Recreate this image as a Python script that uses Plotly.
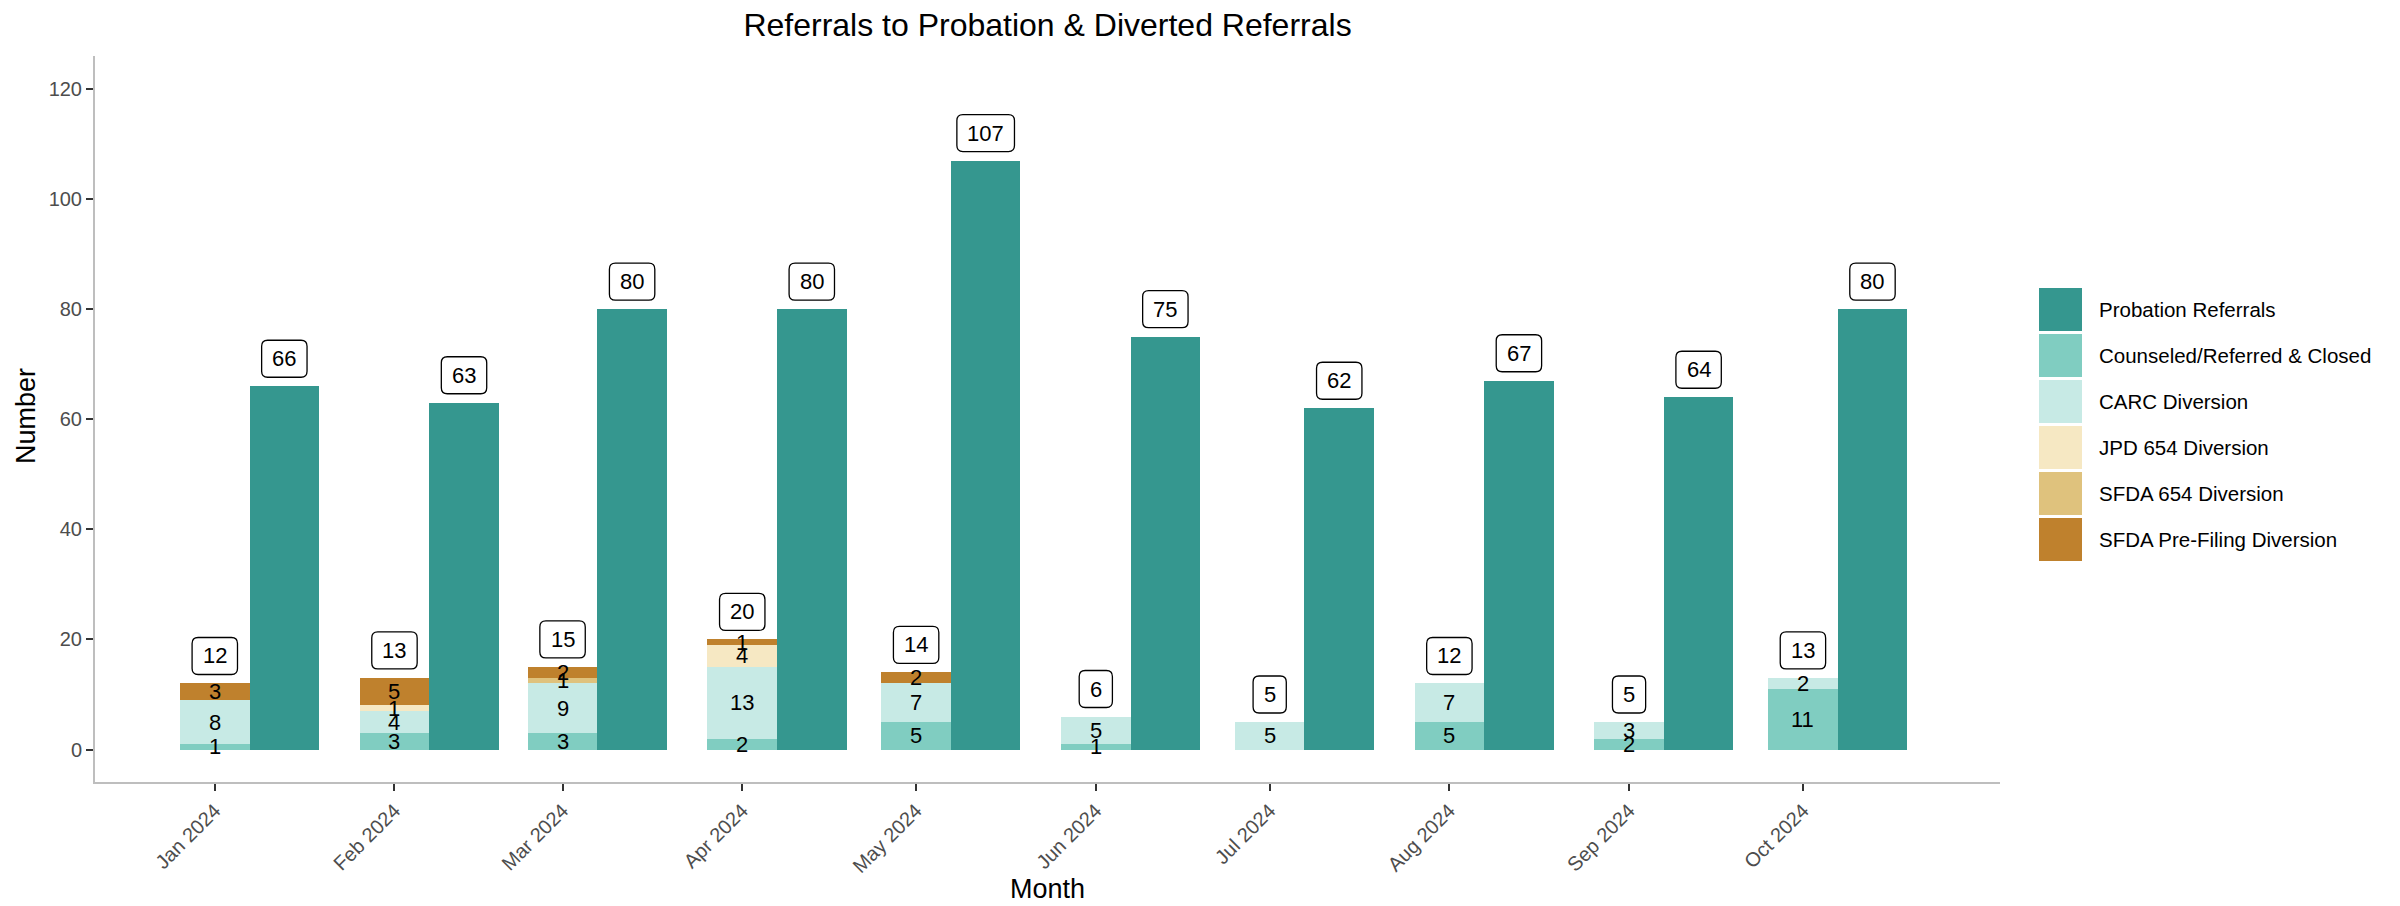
import pandas as pd
import plotly.graph_objects as go

# ---------------- data ----------------
months = ["Jan 2024", "Feb 2024", "Mar 2024", "Apr 2024", "May 2024",
          "Jun 2024", "Jul 2024", "Aug 2024", "Sep 2024", "Oct 2024"]
month_starts = ["2024-01-01", "2024-02-01", "2024-03-01", "2024-04-01", "2024-05-01",
                "2024-06-01", "2024-07-01", "2024-08-01", "2024-09-01", "2024-10-01"]

counseled = [1, 3, 3, 2, 5, 1, 0, 5, 2, 11]
carc = [8, 4, 9, 13, 7, 5, 5, 7, 3, 2]
jpd654 = [0, 1, 0, 4, 0, 0, 0, 0, 0, 0]
sfda654 = [0, 0, 1, 0, 0, 0, 0, 0, 0, 0]
prefiling = [3, 5, 2, 1, 2, 0, 0, 0, 0, 0]
probation = [66, 63, 80, 80, 107, 75, 62, 67, 64, 80]

diversion_series = [
    ("Counseled/Referred & Closed", counseled, "#80cdc1"),
    ("CARC Diversion", carc, "#c7eae5"),
    ("JPD 654 Diversion", jpd654, "#f6e8c3"),
    ("SFDA 654 Diversion", sfda654, "#dfc27d"),
    ("SFDA Pre-Filing Diversion", prefiling, "#bf812d"),
]
probation_name = "Probation Referrals"
probation_color = "#35978f"

title_text = "Referrals to Probation & Diverted Referrals"
x_title = "Month"
y_title = "Number"

# ---------------- layout constants ----------------
FONT = "Liberation Sans, Arial, sans-serif"
W, H = 2400, 906
OFF = 8                      # page body margin
PLOT_L, PLOT_T = 95, 56      # plot area in page pixels
PW, PH = 1905, 726
ML, MT = PLOT_L - OFF, PLOT_T - OFF
MR = W - ML - PW
MB = H - MT - PH
DAY_MS = 86400000
BAR_DAYS = 12

dates = pd.to_datetime(month_starts)
prob_dates = dates + pd.Timedelta(days=BAR_DAYS)

fig = go.Figure()

for name, vals, color in diversion_series:
    fig.add_trace(go.Bar(
        x=dates, y=vals, name=name, width=BAR_DAYS * DAY_MS,
        marker=dict(color=color, line=dict(width=0)), showlegend=False,
    ))

fig.add_trace(go.Bar(
    x=prob_dates, y=probation, name=probation_name, width=BAR_DAYS * DAY_MS,
    marker=dict(color=probation_color, line=dict(width=0)), showlegend=False,
))

annotations = []
shapes = []
label_font = dict(family=FONT, size=22, color="black")

# segment labels
for i, d in enumerate(dates):
    cum = 0
    for name, vals, color in diversion_series:
        v = vals[i]
        if v > 0:
            annotations.append(dict(
                x=d, y=cum + v / 2, text=str(v), showarrow=False,
                font=label_font, xanchor="center", yanchor="middle",
            ))
        cum += v

BOX_GAP, BOX_H, RAD = 9, 37, 6


def rounded_box(x, y, val):
    txt = str(val)
    w = 12.2 * len(txt) + 21
    hx = w / 2
    y0, y1 = BOX_GAP, BOX_GAP + BOX_H
    r = RAD
    path = (f"M {-hx + r},{y0} L {hx - r},{y0} Q {hx},{y0} {hx},{y0 + r} "
            f"L {hx},{y1 - r} Q {hx},{y1} {hx - r},{y1} "
            f"L {-hx + r},{y1} Q {-hx},{y1} {-hx},{y1 - r} "
            f"L {-hx},{y0 + r} Q {-hx},{y0} {-hx + r},{y0} Z")
    shapes.append(dict(
        type="path", xref="x", yref="y", xsizemode="pixel", ysizemode="pixel",
        xanchor=x, yanchor=y, path=path, fillcolor="white",
        line=dict(color="black", width=1.3), layer="above",
    ))
    annotations.append(dict(
        x=x, y=y, text=txt, showarrow=False, font=label_font,
        xanchor="center", yanchor="middle", yshift=BOX_GAP + BOX_H / 2,
    ))


for i, d in enumerate(dates):
    total = sum(vals[i] for _, vals, _ in diversion_series)
    rounded_box(d, total, total)
for i, d in enumerate(prob_dates):
    rounded_box(d, probation[i], probation[i])


def px_to_paper_x(px):
    return (px - PLOT_L) / PW


def px_to_paper_y(py):
    return (PLOT_T + PH - py) / PH


# manual legend (large keys as in the reference)
legend_items = [(probation_name, probation_color)] + [(n, c) for n, _, c in diversion_series]
key_left, key_w, key_h, key_top0, key_step = 2039, 43, 43, 288, 46
for j, (name, color) in enumerate(legend_items):
    top = key_top0 + j * key_step
    shapes.append(dict(
        type="rect", xref="paper", yref="paper",
        x0=px_to_paper_x(key_left), x1=px_to_paper_x(key_left + key_w),
        y0=px_to_paper_y(top + key_h), y1=px_to_paper_y(top),
        fillcolor=color, line=dict(width=0), layer="above",
    ))
    annotations.append(dict(
        xref="paper", yref="paper",
        x=px_to_paper_x(2097), y=px_to_paper_y(top + key_h / 2),
        text=name, showarrow=False, xanchor="left", yanchor="middle",
        font=dict(family=FONT, size=20.5, color="black"),
    ))

# axis titles
annotations.append(dict(
    xref="paper", yref="paper", x=0.5, y=px_to_paper_y(889),
    text=x_title, showarrow=False, xanchor="center", yanchor="middle",
    font=dict(family=FONT, size=27, color="black"),
))
annotations.append(dict(
    xref="paper", yref="paper", x=px_to_paper_x(26), y=px_to_paper_y(416),
    text=y_title, showarrow=False, xanchor="center", yanchor="middle",
    textangle=-90, font=dict(family=FONT, size=27, color="black"),
))

axis_common = dict(
    showline=True, linecolor="#bebebe", linewidth=2,
    ticks="outside", ticklen=7, tickwidth=2, tickcolor="#333333",
    showgrid=False, zeroline=False, automargin=False,
    tickfont=dict(family=FONT, size=20, color="#4d4d4d"),
)

fig.update_layout(
    width=W, height=H,
    margin=dict(l=ML, r=MR, t=MT, b=MB),
    barmode="stack",
    bargap=0,
    plot_bgcolor="white", paper_bgcolor="white",
    showlegend=False,
    title=dict(text=title_text, x=0.5, xref="paper", y=1 - (25 - OFF) / H, yref="container",
               xanchor="center", yanchor="middle",
               font=dict(family=FONT, size=32, color="black")),
    xaxis=dict(type="date", range=["2023-12-11 08:00", "2024-11-04"],
               tickvals=dates, ticktext=months, tickangle=-45, **axis_common),
    yaxis=dict(range=[-5.9, 126], tickvals=[0, 20, 40, 60, 80, 100, 120], **axis_common),
    annotations=annotations,
    shapes=shapes,
)

fig.write_html("out.html")
